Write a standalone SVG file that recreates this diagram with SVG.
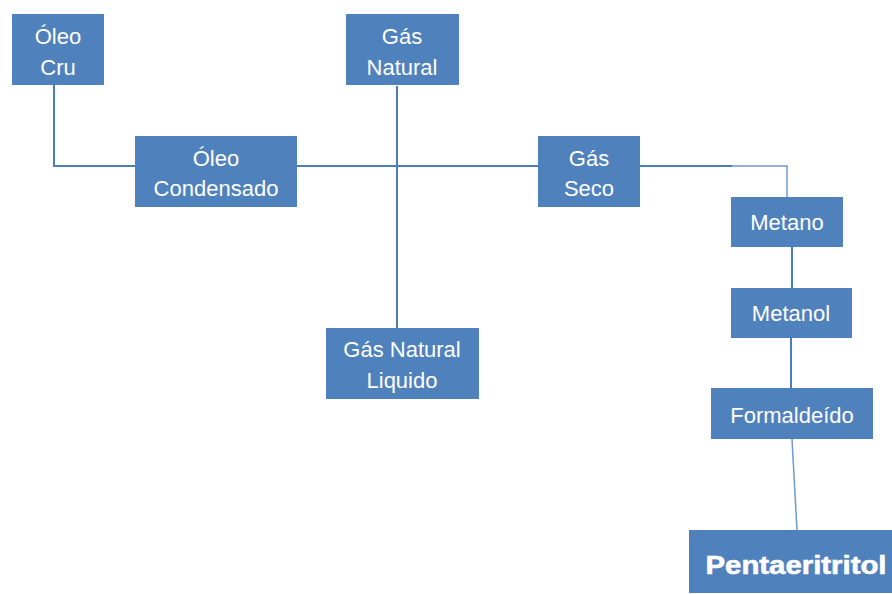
<svg xmlns="http://www.w3.org/2000/svg" width="892" height="594" viewBox="0 0 892 594">
<style>
.box{fill:#4F81BD}
.t{font-family:"Liberation Sans",Arial,sans-serif;font-size:22px;fill:#ffffff;text-anchor:middle}
.b{font-family:"Liberation Sans",Arial,sans-serif;font-size:25px;font-weight:bold;fill:#ffffff;text-anchor:middle;stroke:#ffffff;stroke-width:0.6}
.c{fill:none;stroke:#4A7EBB;stroke-width:2}
.cl{fill:none;stroke:#6F98CC;stroke-width:1.5}
</style>
<rect width="892" height="594" fill="#ffffff"/>
<g id="connectors">
<polyline class="c" points="54,85 54,166 732,166"/>
<polyline class="cl" points="732,166 787,166 787,197"/>
<line class="c" x1="397" y1="86" x2="397" y2="328"/>
<line class="c" x1="792" y1="247" x2="792" y2="288"/>
<line class="c" x1="791" y1="338" x2="791" y2="388"/>
<line class="cl" x1="792" y1="439" x2="797" y2="530"/>
</g>
<g id="oleo-cru"><rect class="box" x="12" y="14" width="92" height="71"/><text class="t" x="58" y="44">Óleo</text><text class="t" x="58" y="75">Cru</text></g>
<g id="oleo-condensado"><rect class="box" x="135" y="136" width="162" height="71"/><text class="t" x="216" y="166">Óleo</text><text class="t" x="216" y="196">Condensado</text></g>
<g id="gas-natural"><rect class="box" x="346" y="14" width="113" height="71"/><text class="t" x="402" y="44">Gás</text><text class="t" x="402" y="75">Natural</text></g>
<g id="gas-seco"><rect class="box" x="538" y="136" width="102" height="71"/><text class="t" x="589" y="166">Gás</text><text class="t" x="589" y="196">Seco</text></g>
<g id="gas-natural-liquido"><rect class="box" x="326" y="328" width="153" height="71"/><text class="t" x="402" y="357">Gás Natural</text><text class="t" x="402" y="388">Liquido</text></g>
<g id="metano"><rect class="box" x="731" y="197" width="112" height="50"/><text class="t" x="787" y="230">Metano</text></g>
<g id="metanol"><rect class="box" x="731" y="288" width="121" height="50"/><text class="t" x="791" y="321">Metanol</text></g>
<g id="formaldeido"><rect class="box" x="711" y="388" width="162" height="51"/><text class="t" x="792" y="423">Formaldeído</text></g>
<g id="pentaeritritol"><rect class="box" x="689" y="530" width="203" height="63"/><text class="b" x="796" y="574" textLength="181" lengthAdjust="spacingAndGlyphs">Pentaeritritol</text></g>
</svg>
